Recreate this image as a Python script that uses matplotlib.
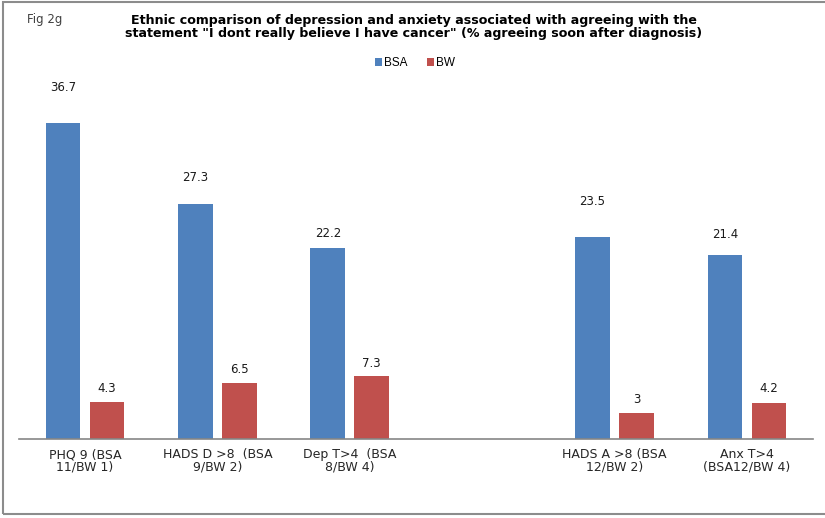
import numpy as np
import matplotlib
matplotlib.use("Agg")
import matplotlib.pyplot as plt
from matplotlib.patches import Rectangle

# ---- data ----
categories = ["PHQ 9 (BSA\n11/BW 1)", "HADS D >8  (BSA\n9/BW 2)", "Dep T>4  (BSA\n8/BW 4)", "",
              "HADS A >8 (BSA\n12/BW 2)", "Anx T>4\n(BSA12/BW 4)"]
bsa = [36.7, 27.3, 22.2, np.nan, 23.5, 21.4]
bw = [4.3, 6.5, 7.3, np.nan, 3, 4.2]
bsa_labels = ["36.7", "27.3", "22.2", "", "23.5", "21.4"]
bw_labels = ["4.3", "6.5", "7.3", "", "3", "4.2"]
series_names = ["BSA", "BW"]
title = ("Ethnic comparison of depression and anxiety associated with agreeing with the\n"
         "statement \"I dont really believe I have cancer\" (% agreeing soon after diagnosis)")
fig_tag = "Fig 2g"

# ---- style ----
W, H = 825, 518
colors = ["#4F81BD", "#C0504D"]
bsa_label_gap_px = [36, 27, 15, 0, 35, 20]
bw_label_gap_px = [14, 14, 13, 0, 14, 14]
font = "Liberation Sans"
wide = "DejaVu Sans"

fig = plt.figure(figsize=(W / 100, H / 100), dpi=100)
ax = fig.add_axes([18.8 / W, (H - 439) / H, 794.4 / W, 344 / H])

x = np.arange(len(categories))
bar_w = 0.264
off = 0.166
b1 = ax.bar(x - off, bsa, width=bar_w, color=colors[0], label=series_names[0])
b2 = ax.bar(x + off, bw, width=bar_w, color=colors[1], label=series_names[1])

for xs, vals, labs, gaps in [(x - off, bsa, bsa_labels, bsa_label_gap_px),
                             (x + off, bw, bw_labels, bw_label_gap_px)]:
    for xi, v, lab, g in zip(xs, vals, labs, gaps):
        if np.isnan(v):
            continue
        ax.annotate(lab, (xi, v), xytext=(0, g * 0.72), textcoords="offset points",
                    ha="center", va="center", fontsize=8.5, family=wide, color="#1a1a1a")

ax.set_xlim(-0.5, len(categories) - 0.5)
ax.set_ylim(0, 40)
ax.set_xticks(x)
ax.set_xticklabels(categories, fontsize=9, family=wide, color="#262626", linespacing=0.98)
ax.tick_params(axis="x", length=0, pad=6.5)
ax.set_yticks([])
for s in ["top", "right", "left"]:
    ax.spines[s].set_visible(False)
ax.spines["bottom"].set_color("#868686")
ax.spines["bottom"].set_linewidth(1.2)

fig.text(414 / W, 1 - 27 / H, title, ha="center", va="center", fontsize=9.05,
         fontweight="bold", family=wide, linespacing=1.08, color="#000000")
fig.text(27 / W, 1 - 20 / H, fig_tag, ha="left", va="center", fontsize=8.5,
         family=wide, color="#404040")

fig.legend(handles=[b1, b2], labels=series_names, loc="center",
           bbox_to_anchor=(415 / W, 1 - 63 / H), ncol=2, frameon=False,
           prop={"family": font, "size": 8.5}, handlelength=0.6, handleheight=0.6,
           handletextpad=0.2, columnspacing=1.6, borderpad=0)

fig.add_artist(Rectangle((3 / W, (H - 514) / H), 830 / W, 512 / H, transform=fig.transFigure,
                         fill=False, edgecolor="#8c8c8c", linewidth=1.5, clip_on=False))

fig.savefig("out.png", dpi=100)
